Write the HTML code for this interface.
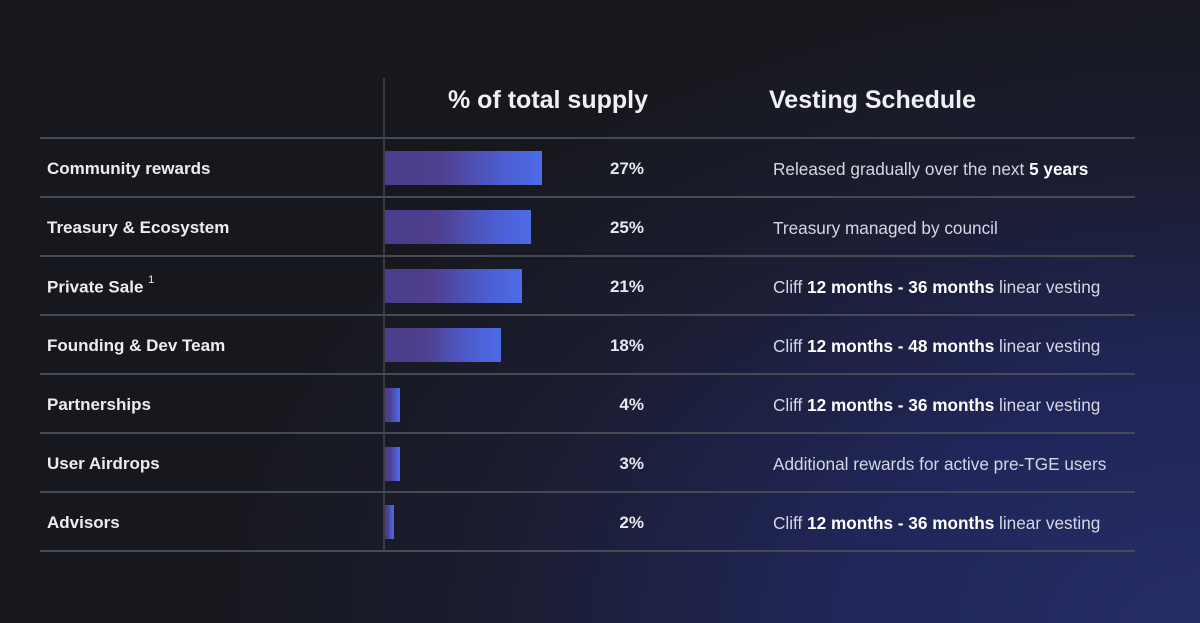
<!DOCTYPE html>
<html><head><style>
html,body{margin:0;padding:0}
body{width:1200px;height:623px;overflow:hidden;position:relative;font-family:"Liberation Sans",sans-serif;color:#e8e8f0;
background:radial-gradient(ellipse 1000px 650px at 1200px 623px,#272e66 0%,#20265a 35%,#1b1d32 70%,#17181d 100%),#17181d;}
.h{position:absolute;top:86px;font-size:25px;font-weight:bold;color:#f0f0f5}
.vl{position:absolute;left:383px;top:78px;width:2px;height:473px;background:#3a3b42}
.hl{position:absolute;left:40px;width:1095px;height:2px;background:#474955}
.lab{position:absolute;left:47px;font-size:17px;font-weight:bold;color:#ececf2}
.bar{position:absolute;left:385px;height:34px;background:linear-gradient(90deg,#4a3d8c 0%,#4f3f8e 35%,#4c5ed0 75%,#4d6be8 100%)}
.pct{position:absolute;right:556px;font-size:17px;font-weight:bold}
.ves{position:absolute;left:773px;font-size:17.2px;color:#d6d7e2}
.ves b{color:#fff}
sup{font-size:11px;font-weight:normal;position:relative;top:-3px}
</style></head><body>
<div class="h" style="left:448px">% of total supply</div>
<div class="h" style="left:769px">Vesting Schedule</div>
<div class="vl"></div>
<div class="hl" style="top:137px"></div>
<div class="hl" style="top:196px"></div>
<div class="hl" style="top:255px"></div>
<div class="hl" style="top:314px"></div>
<div class="hl" style="top:373px"></div>
<div class="hl" style="top:432px"></div>
<div class="hl" style="top:491px"></div>
<div class="hl" style="top:550px"></div>

<div class="lab" style="top:159px">Community rewards</div>
<div class="bar" style="top:151px;width:157px"></div>
<div class="pct" style="top:159px">27%</div>
<div class="ves" style="top:159px">Released gradually over the next <b>5 years</b></div>

<div class="lab" style="top:218px">Treasury &amp; Ecosystem</div>
<div class="bar" style="top:210px;width:146px"></div>
<div class="pct" style="top:218px">25%</div>
<div class="ves" style="top:218px">Treasury managed by council</div>

<div class="lab" style="top:277px">Private Sale <sup>1</sup></div>
<div class="bar" style="top:269px;width:137px"></div>
<div class="pct" style="top:277px">21%</div>
<div class="ves" style="top:277px">Cliff <b>12 months - 36 months</b> linear vesting</div>

<div class="lab" style="top:336px">Founding &amp; Dev Team</div>
<div class="bar" style="top:328px;width:116px"></div>
<div class="pct" style="top:336px">18%</div>
<div class="ves" style="top:336px">Cliff <b>12 months - 48 months</b> linear vesting</div>

<div class="lab" style="top:395px">Partnerships</div>
<div class="bar" style="top:388px;width:15px"></div>
<div class="pct" style="top:395px">4%</div>
<div class="ves" style="top:395px">Cliff <b>12 months - 36 months</b> linear vesting</div>

<div class="lab" style="top:454px">User Airdrops</div>
<div class="bar" style="top:447px;width:15px"></div>
<div class="pct" style="top:454px">3%</div>
<div class="ves" style="top:454px">Additional rewards for active pre-TGE users</div>

<div class="lab" style="top:513px">Advisors</div>
<div class="bar" style="top:505px;width:9px"></div>
<div class="pct" style="top:513px">2%</div>
<div class="ves" style="top:513px">Cliff <b>12 months - 36 months</b> linear vesting</div>
</body></html>
